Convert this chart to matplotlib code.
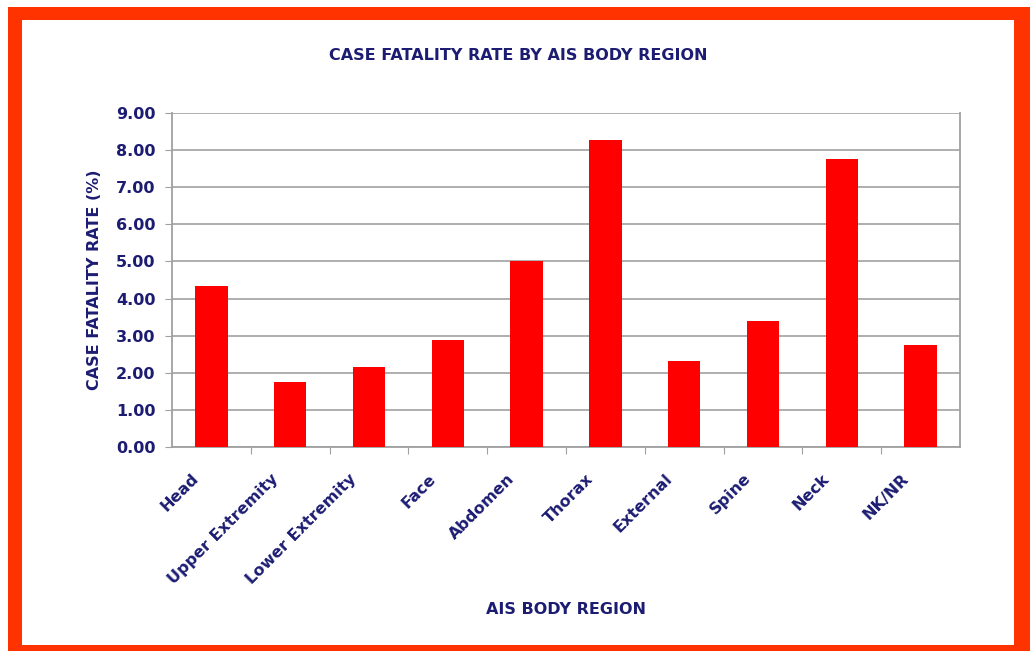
import matplotlib
matplotlib.use("Agg")
import matplotlib.pyplot as plt
from matplotlib.patches import Rectangle
from matplotlib.transforms import ScaledTranslation

categories = ["Head", "Upper Extremity", "Lower Extremity", "Face", "Abdomen",
              "Thorax", "External", "Spine", "Neck", "NK/NR"]
values = [4.33, 1.75, 2.15, 2.88, 5.01, 8.28, 2.31, 3.39, 7.77, 2.74]
yticks = [0, 1, 2, 3, 4, 5, 6, 7, 8, 9]
title = "CASE FATALITY RATE BY AIS BODY REGION"
xlabel = "AIS BODY REGION"
ylabel = "CASE FATALITY RATE (%)"

plt.rcParams['font.family'] = ['DejaVu Sans']

navy = "#1c1c72"
fig = plt.figure(figsize=(10.30, 6.51), dpi=100)
fig.patch.set_facecolor("white")

# red frame
fig.patches.append(Rectangle((8/1030, 0), 1 - 8/1030, 1 - 7/651, transform=fig.transFigure,
                             facecolor="#ff3300", edgecolor="none", zorder=-2))
fig.patches.append(Rectangle((22/1030, 6/651), (1014-22)/1030, (645-20)/651, transform=fig.transFigure,
                             facecolor="white", edgecolor="none", zorder=-1))

ax = fig.add_axes([172/1030, 1-447/651, (960-172)/1030, (447-113)/651])
ax.set_zorder(2)
ax.patch.set_alpha(0)
x = list(range(len(categories)))
ax.bar(x, values, width=0.41, color="#ff0000", zorder=3)
ax.set_xlim(-0.5, len(categories) - 0.5)
ax.set_ylim(0, 9)
ax.set_yticks(yticks)
ax.set_yticklabels([f"{v:.2f}" for v in yticks], fontsize=11.5, fontweight="bold", color=navy)
ax.yaxis.grid(True, color="#a8a8a8", linewidth=1.3, zorder=0)
ax.set_axisbelow(True)
ax.set_xticks([i + 0.5 for i in x[:-1]], minor=False)
ax.set_xticklabels([])
ax.set_xticks(x, minor=True)
ax.set_xticklabels(categories, minor=True, rotation=45, ha="right", va="top",
                   rotation_mode="anchor", fontsize=11.5, fontweight="bold", color=navy)
ax.tick_params(axis="x", which="minor", length=0, pad=10)
ax.tick_params(axis="x", which="major", length=5, color="#a0a0a0")
ax.tick_params(axis="y", length=5, color="#a0a0a0", pad=7)
off = ScaledTranslation(-20/100, -10/100, fig.dpi_scale_trans)
for lab in ax.get_xticklabels(minor=True):
    lab.set_transform(lab.get_transform() + off)
for s in ["left", "right", "bottom"]:
    ax.spines[s].set_color("#a0a0a0")
    ax.spines[s].set_linewidth(1.3)
ax.spines["top"].set_visible(False)

ax.set_ylabel(ylabel, fontsize=11.5, fontweight="bold", color=navy, labelpad=10)
fig.text(566/1030, 1-610/651, xlabel, ha="center", va="center", fontsize=11.5,
         fontweight="bold", color=navy)
fig.text(518/1030, 1-55/651, title, ha="center", va="center", fontsize=11.5,
         fontweight="bold", color=navy)

fig.savefig("out.png", dpi=100, facecolor="white")
